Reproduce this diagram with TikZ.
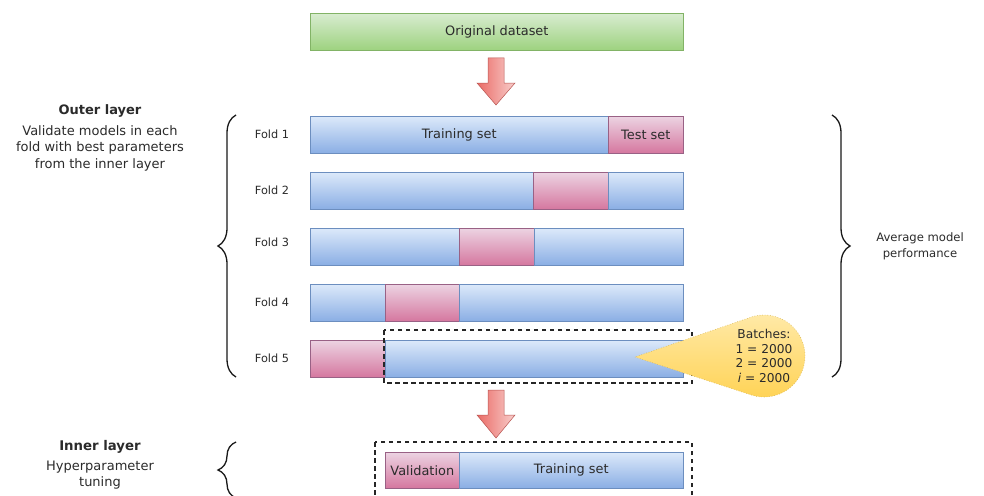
\documentclass[tikz,border=0pt]{standalone}
\usepackage{fontspec}
\setmainfont{DejaVu Sans}
\usetikzlibrary{decorations.pathreplacing,calc}
\definecolor{txt}{HTML}{2B2B2B}
\definecolor{blueT}{HTML}{DCE9FA}
\definecolor{blueB}{HTML}{8AAEE4}
\definecolor{blueL}{HTML}{6C8EBF}
\definecolor{pinkT}{HTML}{ECD3E2}
\definecolor{pinkB}{HTML}{D5779F}
\definecolor{pinkL}{HTML}{996185}
\definecolor{greenT}{HTML}{D8ECD0}
\definecolor{greenB}{HTML}{9DD27F}
\definecolor{greenL}{HTML}{82B366}
\definecolor{redD}{HTML}{EA6B66}
\definecolor{redT}{HTML}{F8CECC}
\definecolor{redL}{HTML}{B85450}
\definecolor{yelD}{HTML}{FFD252}
\definecolor{yelT}{HTML}{FFE9A6}
\definecolor{yelL}{HTML}{D6B656}
\begin{document}
\begin{tikzpicture}[x=1pt,y=-1pt,
  font=\fontsize{12.9}{15}\selectfont, text=txt,
  bluebar/.style={draw=blueL, top color=blueT, bottom color=blueB, minimum height=37, inner sep=0, anchor=north west, line width=0.6},
  pinkbar/.style={draw=pinkL, top color=pinkT, bottom color=pinkB, minimum height=37, inner sep=0, anchor=north west, line width=0.6},
  greenbar/.style={draw=greenL, top color=greenT, bottom color=greenB, minimum height=37, inner sep=0, anchor=north west, line width=0.6},
  foldlab/.style={font=\fontsize{11.3}{13}\selectfont},
  dashbox/.style={draw=black!85, line width=1.3, dash pattern=on 4.5pt off 3.5pt},
  bigarrow/.style={draw=redL, left color=redD, right color=redT, line width=0.5},
  bracestyle/.style={draw=black!90, line width=1.3, decorate, decoration={brace, amplitude=18pt}}]
\useasboundingbox (0,0) rectangle (984,495);
\clip (0,0) rectangle (984,495);
\fill[white] (0,0) rectangle (984,495);

% original dataset
\node[greenbar, minimum width=373] (orig) at (310,13) {Original dataset};

% arrow 1
\path[bigarrow] (488,58) -- (504,58) -- (504,83) -- (515,83) -- (496,105) -- (477,83) -- (488,83) -- cycle;

% fold 1
\node[bluebar, minimum width=298] (f1a) at (310,116) {Training set};
\node[pinkbar, minimum width=75] (f1b) at (608,116) {Test set};
% fold 2
\node[bluebar, minimum width=223] (f2a) at (310,172) {};
\node[pinkbar, minimum width=75] (f2b) at (533,172) {};
\node[bluebar, minimum width=75] (f2c) at (608,172) {};
% fold 3
\node[bluebar, minimum width=149] (f3a) at (310,228) {};
\node[pinkbar, minimum width=75] (f3b) at (459,228) {};
\node[bluebar, minimum width=149] (f3c) at (534,228) {};
% fold 4
\node[bluebar, minimum width=75] (f4a) at (310,284) {};
\node[pinkbar, minimum width=74] (f4b) at (385,284) {};
\node[bluebar, minimum width=224] (f4c) at (459,284) {};
% fold 5
\node[pinkbar, minimum width=75] (f5a) at (310,340) {};
\node[bluebar, minimum width=298] (f5b) at (385,340) {};

% fold labels
\node[foldlab] (l1) at (272,134.5) {Fold 1};
\node[foldlab] (l2) at (272,190.5) {Fold 2};
\node[foldlab] (l3) at (272,242) {Fold 3};
\node[foldlab] (l4) at (272,302.5) {Fold 4};
\node[foldlab] (l5) at (272,358.5) {Fold 5};

% outer dashed box
\draw[dashbox] (384,330) rectangle (692,383);

% callout
\coordinate (tip) at (635,357);
\path[draw=yelL, dotted, line width=0.6, top color=yelT, bottom color=yelD]
  (tip) -- ($(764,356)+(107:41)$) arc[start angle=107, end angle=-107, radius=41] -- cycle;
\node[circle, minimum size=82, inner sep=0, align=center, font=\fontsize{12.2}{14.6}\selectfont] (batch) at (764,356)
  {Batches:\\1 = 2000\\2 = 2000\\{\itshape i} = 2000};

% braces
\draw[bracestyle] (236,377) -- (236,115);
\draw[bracestyle] (832,115) -- (832,377);
\draw[bracestyle] (236,498) -- (236,442);

% outer texts
\node[font=\fontsize{13}{15}\selectfont\bfseries] (outer) at (100,111) {Outer layer};
\node[align=center, font=\fontsize{13}{16.5}\selectfont] (outerd) at (100,148)
  {Validate models in each\\fold with best parameters\\from the inner layer};
\node[align=center, font=\fontsize{11.6}{16}\selectfont] (avg) at (920,246)
  {Average model\\performance};

% arrow 2
\path[bigarrow] (488,390) -- (504,390) -- (504,415) -- (515,415) -- (496,438) -- (477,415) -- (488,415) -- cycle;

% inner layer
\node[font=\fontsize{13.3}{15}\selectfont\bfseries] (inner) at (100,447) {Inner layer};
\node[align=center, font=\fontsize{13}{16}\selectfont] (innerd) at (100,475)
  {Hyperparameter\\tuning};
\draw[dashbox] (375,442) rectangle (692,510);
\node[pinkbar, minimum width=74, minimum height=36] (iv) at (385,452) {Validation};
\node[bluebar, minimum width=224, minimum height=36] (it) at (459,452) {Training set};
\end{tikzpicture}
\end{document}
